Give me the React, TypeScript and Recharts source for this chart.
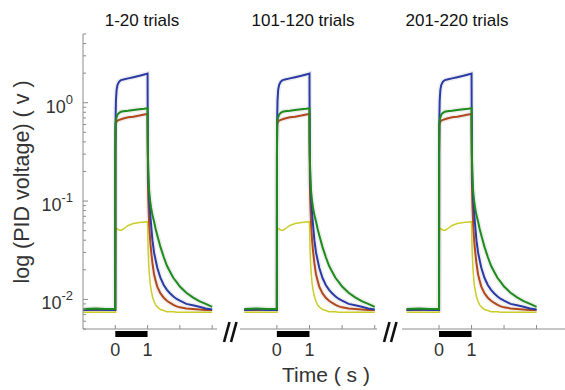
import React from 'react'
import { LineChart, Line, XAxis, YAxis, ReferenceArea } from 'recharts'

// time in s, PID voltage in V (mean of trials)
const time = [
  -1, -0.6, -0.3, -0.01, 0, 0.003, 0.01, 0.02, 0.04, 0.07, 0.12, 0.18, 0.25, 0.4, 0.56, 0.75, 0.9, 1.0,
  1.005, 1.01, 1.02, 1.03, 1.05, 1.08, 1.11, 1.15, 1.2, 1.25, 1.3, 1.4, 1.5, 1.6, 1.7, 1.8, 1.9, 2.0,
  2.2, 2.4, 2.6, 2.8, 3.0,
]
const blue = [
  0.0078, 0.0079, 0.0078, 0.0078, 0.0078, 0.28, 0.7, 1.05, 1.35, 1.52, 1.64, 1.7, 1.72, 1.77, 1.82, 1.88, 1.94, 1.98,
  0.6, 0.33, 0.2, 0.15, 0.105, 0.075, 0.057, 0.04, 0.03, 0.025, 0.021, 0.0165, 0.014, 0.0125, 0.0115, 0.0107, 0.0101, 0.0097,
  0.009, 0.0087, 0.0084, 0.0081, 0.0079,
]
const green = [
  0.008, 0.0081, 0.008, 0.008, 0.008, 0.35, 0.62, 0.66, 0.71, 0.76, 0.79, 0.81, 0.82, 0.83, 0.845, 0.86, 0.87, 0.88,
  0.45, 0.3, 0.2, 0.16, 0.125, 0.1, 0.085, 0.072, 0.062, 0.052, 0.045, 0.034, 0.027, 0.022, 0.019, 0.0165, 0.015, 0.0135,
  0.0117, 0.0105, 0.0096, 0.009, 0.0084,
]
const red = [
  0.0078, 0.0078, 0.0079, 0.0078, 0.0078, 0.3, 0.58, 0.62, 0.64, 0.66, 0.67, 0.68, 0.69, 0.71, 0.72, 0.74, 0.76, 0.77,
  0.3, 0.17, 0.11, 0.085, 0.058, 0.04, 0.031, 0.0235, 0.018, 0.0155, 0.0135, 0.0115, 0.0104, 0.0097, 0.0092, 0.0088, 0.0085, 0.0083,
  0.0081, 0.008, 0.0079, 0.0078, 0.0078,
]
const yellow = [
  0.0074, 0.0074, 0.0074, 0.0074, 0.0074, 0.03, 0.048, 0.0515, 0.0525, 0.052, 0.0508, 0.0502, 0.052, 0.0565, 0.059, 0.0605, 0.0612, 0.0617,
  0.05, 0.04, 0.03, 0.025, 0.019, 0.0145, 0.0125, 0.0107, 0.0095, 0.0088, 0.0084, 0.0079, 0.0077, 0.0075, 0.0075, 0.0075, 0.0074, 0.0074,
  0.0074, 0.0074, 0.0074, 0.0074, 0.0074,
]

const yTicks = [
  0.005, 0.006, 0.007, 0.008, 0.009, 0.01, 0.02, 0.03, 0.04, 0.05, 0.06, 0.07, 0.08, 0.09,
  0.1, 0.2, 0.3, 0.4, 0.5, 0.6, 0.7, 0.8, 0.9, 1, 2, 3, 4, 5,
]
const xTicks = [0, 1, 2, 3]
const xLabels = [0, 1]
const titles = ['1-20 trials', '101-120 trials', '201-220 trials']

const data = time.map((t, i) => ({ t, blue: blue[i], green: green[i], red: red[i], yellow: yellow[i] }))

const FONT = '"Liberation Sans", Arial, Helvetica, sans-serif'
const AXIS = '#8c8c8c'
const HAZE = '#eeeeee'

const panels = [
  { left: 0, width: 225, mLeft: 0, mRight: 8, domain: [-1, 3.15], yAxis: true, titleX: 142 },
  { left: 230, width: 150, mLeft: 10, mRight: 3, domain: [-1.13, 3.07], yAxis: false, titleX: 303 },
  { left: 392, width: 173, mLeft: 10, mRight: 0, domain: [-1.14, 3.875], yAxis: false, titleX: 457 },
]

function YTick(props: any) {
  const { x, y, payload } = props
  const lg = Math.log10(payload.value)
  const exp = Math.round(lg)
  const major = Math.abs(lg - exp) < 1e-6 && exp <= 0
  return (
    <g>
      <line x1={x} x2={x + (major ? 5 : 3)} y1={y} y2={y} stroke={AXIS} />
      {major && (
        <text x={x - 10} y={y + 10} textAnchor="end" fill="#333" fontSize={18} fontFamily={FONT}>
          10
          <tspan dy={-9} fontSize={13}>
            {exp}
          </tspan>
        </text>
      )}
    </g>
  )
}

function XTick(props: any) {
  const { x, y, payload } = props
  return (
    <g>
      <line x1={x} x2={x} y1={y} y2={y - 4} stroke={AXIS} />
      {xLabels.includes(payload.value) && (
        <text x={x} y={y + 27} textAnchor="middle" fill="#333" fontSize={18} fontFamily={FONT}>
          {payload.value}
        </text>
      )}
    </g>
  )
}

function BreakMark({ cx }: { cx: number }) {
  return (
    <g stroke="#111" strokeWidth={2.6} strokeLinecap="butt">
      <line x1={cx - 0.5} y1={322} x2={cx - 6} y2={342} />
      <line x1={cx + 6.5} y1={322} x2={cx + 1} y2={342} />
    </g>
  )
}

function Panel({ p }: { p: (typeof panels)[number] }) {
  return (
    <div style={{ position: 'absolute', left: p.left, top: 0 }}>
      <LineChart
        width={p.width}
        height={390}
        data={data}
        margin={{ top: 34, right: p.mRight, bottom: 31, left: p.mLeft }}
      >
        <XAxis
          dataKey="t"
          type="number"
          domain={p.domain}
          allowDataOverflow
          ticks={xTicks}
          interval={0}
          tickSize={0}
          tickMargin={0}
          tickLine={false}
          tick={<XTick />}
          axisLine={{ stroke: AXIS }}
          height={30}
        />
        <YAxis
          scale="log"
          domain={[0.005, 5]}
          allowDataOverflow
          ticks={yTicks}
          interval={0}
          tickSize={0}
          tickMargin={0}
          tickLine={false}
          tick={<YTick />}
          axisLine={{ stroke: AXIS }}
          width={83}
          hide={!p.yAxis}
        />
        <ReferenceArea x1={0} x2={1} y1={0.00415} y2={0.00477} fill="#000" fillOpacity={1} stroke="none" ifOverflow="visible" />
        {/* faint spread of single trials */}
        <Line dataKey="red" stroke={HAZE} strokeWidth={5} dot={false} isAnimationActive={false} />
        <Line dataKey="blue" stroke={HAZE} strokeWidth={5} dot={false} isAnimationActive={false} />
        <Line dataKey="green" stroke={HAZE} strokeWidth={5} dot={false} isAnimationActive={false} />
        <Line dataKey="yellow" stroke="#cccc2a" strokeWidth={1.5} dot={false} isAnimationActive={false} />
        <Line dataKey="red" stroke="#b4471c" strokeWidth={2} dot={false} isAnimationActive={false} />
        <Line dataKey="blue" stroke="#2a3aa6" strokeWidth={2} dot={false} isAnimationActive={false} />
        <Line dataKey="green" stroke="#1d8c1d" strokeWidth={2} dot={false} isAnimationActive={false} />
      </LineChart>
    </div>
  )
}

export default function App() {
  return (
    <div style={{ position: 'absolute', left: 0, top: 0, width: 565, height: 390, background: '#fff', fontFamily: FONT }}>
      {panels.map((p, i) => (
        <Panel key={i} p={p} />
      ))}
      <svg width={565} height={390} style={{ position: 'absolute', left: 0, top: 0, pointerEvents: 'none' }}>
        {panels.map((p, i) => (
          <text key={i} x={p.titleX} y={26} textAnchor="middle" fontSize={17} fill="#111" fontFamily={FONT}>
            {titles[i]}
          </text>
        ))}
        <BreakMark cx={230} />
        <BreakMark cx={390} />
        <text x={326} y={382} textAnchor="middle" fontSize={21} fill="#333" fontFamily={FONT}>
          Time ( s )
        </text>
        <text
          x={29}
          y={182}
          transform="rotate(-90 29 182)"
          textAnchor="middle"
          fontSize={21.5}
          fill="#333"
          fontFamily={FONT}
        >
          log (PID voltage) ( v )
        </text>
      </svg>
    </div>
  )
}
